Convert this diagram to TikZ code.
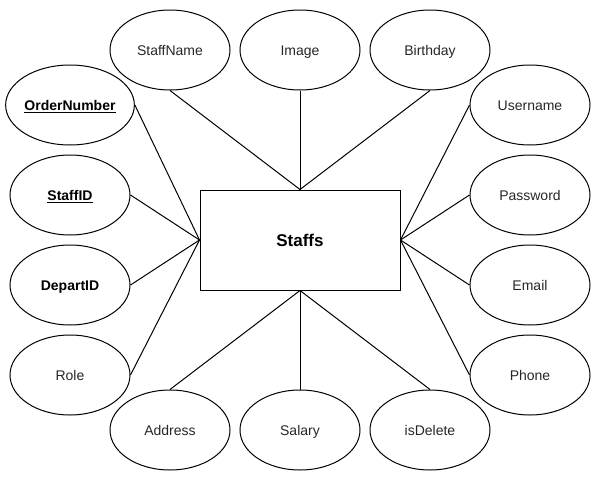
\documentclass[tikz,border=0pt]{standalone}
\usepackage{fontspec}
\setmainfont{Liberation Sans}
\usetikzlibrary{shapes.geometric}

\begin{document}
\begin{tikzpicture}[x=0.75pt,y=-0.75pt,font=\fontsize{10.5}{12}\selectfont,line width=0.75pt,
  attr/.style={draw,ellipse,minimum width=90pt,minimum height=60pt,inner sep=0pt,text=black!85,text height=7.5pt,text depth=0pt},
  key/.style={attr,text=black,font=\fontsize{10.5}{12}\selectfont\bfseries},
  entity/.style={draw,rectangle,minimum width=150pt,minimum height=75pt,inner sep=0pt,text height=9.1pt,text depth=0pt,font=\fontsize{12.75}{15}\selectfont\bfseries}]
  \useasboundingbox (0,0) rectangle (601,479);
  \node[entity] (staffs) at (300,240) {Staffs};
  % top row
  \node[attr] (staffname) at (170,50) {StaffName};
  \node[attr] (image) at (300,50) {Image};
  \node[attr] (birthday) at (430,50) {Birthday};
  % left column
  \node[key] (ordernumber) at (70,105) {\underline{OrderNumber}};
  \node[key] (staffid) at (70,195) {\underline{StaffID}};
  \node[key] (departid) at (70,285) {DepartID};
  \node[attr] (role) at (70,375) {Role};
  % right column
  \node[attr] (username) at (530,105) {Username};
  \node[attr] (password) at (530,195) {Password};
  \node[attr] (email) at (530,285) {Email};
  \node[attr] (phone) at (530,375) {Phone};
  % bottom row
  \node[attr] (address) at (170,430) {Address};
  \node[attr] (salary) at (300,430) {Salary};
  \node[attr] (isdelete) at (430,430) {isDelete};

  \draw (staffname.south) -- (staffs.north);
  \draw (image.south) -- (staffs.north);
  \draw (birthday.south) -- (staffs.north);
  \draw (ordernumber.east) -- (staffs.west);
  \draw (staffid.east) -- (staffs.west);
  \draw (departid.east) -- (staffs.west);
  \draw (role.east) -- (staffs.west);
  \draw (username.west) -- (staffs.east);
  \draw (password.west) -- (staffs.east);
  \draw (email.west) -- (staffs.east);
  \draw (phone.west) -- (staffs.east);
  \draw (address.north) -- (staffs.south);
  \draw (salary.north) -- (staffs.south);
  \draw (isdelete.north) -- (staffs.south);
\end{tikzpicture}
\end{document}
